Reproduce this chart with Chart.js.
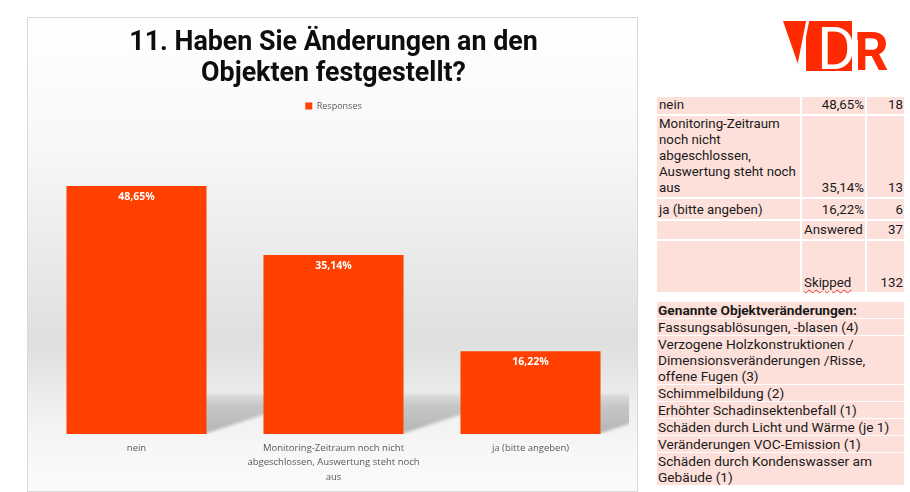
<!DOCTYPE html>
<html><head><meta charset="utf-8">
<script src="https://cdn.jsdelivr.net/npm/chart.js@4/dist/chart.umd.min.js"></script>
<style>
html,body{margin:0;padding:0}
body{width:910px;height:492px;background:#fff;position:relative;overflow:hidden;font-family:Roboto,"Liberation Sans",sans-serif;color:#1a1a1a}
#box{position:absolute;left:27px;top:17px;width:609px;height:473px;border:1px solid #d9d9d9;
background:linear-gradient(to bottom,#ffffff 0%,#f8f8f8 26%,#f1f1f1 38%,#e6e6e6 57%,#dfdfdf 68%,#e4e4e4 74%,#ededed 80%,#f6f6f6 90%,#fbfbfb 100%)}
#box canvas{position:absolute;left:0;top:0}
#logo{position:absolute;left:775px;top:10px}
.tbl{position:absolute;left:657px;border-collapse:separate;border-spacing:0;font-size:13.7px;line-height:16px;color:#1a1a1a}
.tbl td{background:#fde0da;padding:0 1px 0 2px;vertical-align:bottom;border-right:2px solid #fff;border-bottom:2px solid #fff;white-space:normal}
.tbl td:last-child{border-right:none}
#t1{top:97px;width:247px;font-size:13.3px}
#t1 td:first-child{padding-right:0}
#t2{top:302px;width:247px}
#t2 td{border-bottom:1px solid #fff;vertical-align:top;padding-left:1px}
.r{text-align:right}
.sp{text-decoration:underline wavy #e03030;text-decoration-thickness:1px;text-underline-offset:2px}
</style></head>
<body>
<div id="box"><canvas id="c" width="609" height="473"></canvas></div>
<svg id="logo" width="115" height="70" viewBox="775 10 115 70">
  <polygon points="783,21 809,21 799,67" fill="#ff2a00"/>
  <rect x="806" y="21" width="48" height="50" fill="#ff2a00"/>
  <text x="817" y="69" font-family="Roboto" font-weight="400" font-size="60" fill="#fff">D</text>
  <line x1="809" y1="14" x2="797" y2="75" stroke="#fff" stroke-width="3"/>
  <line x1="853" y1="16" x2="853" y2="74" stroke="#fff" stroke-width="2"/>
  <text x="854" y="70" font-family="Roboto" font-weight="700" font-size="54" fill="#ff2a00">R</text>
  <line x1="857" y1="40" x2="857" y2="74" stroke="#fff" stroke-width="2"/>
</svg>
<table id="t1" class="tbl"></table>
<table id="t2" class="tbl"></table>
<script>
const titleLines = ["11. Haben Sie Änderungen an den", "Objekten festgestellt?"];
const seriesName = "Responses";
const categories = ["nein", "Monitoring-Zeitraum noch nicht abgeschlossen, Auswertung steht noch aus", "ja (bitte angeben)"];
const tickLabels = [["nein"], ["Monitoring-Zeitraum noch nicht", "abgeschlossen, Auswertung steht noch", "aus"], ["ja (bitte angeben)"]];
const responsesPct = [48.65, 35.14, 16.22];
const responsesCount = [18, 13, 6];
const answered = 37;
const skipped = 132;
const changesHeader = "Genannte Objektveränderungen:";
const changesList = ["Fassungsablösungen, -blasen (4)", "Verzogene Holzkonstruktionen / Dimensionsveränderungen /Risse, offene Fugen (3)", "Schimmelbildung (2)", "Erhöhter Schadinsektenbefall (1)", "Schäden durch Licht und Wärme (je 1)", "Veränderungen VOC-Emission (1)", "Schäden durch Kondenswasser am Gebäude (1)"];

const fmt = v => v.toFixed(2).replace('.', ',') + '%';

// right tables
const t1 = document.getElementById('t1');
const rowH = [18, 82, 22];
let h = '';
categories.forEach((c, i) => {
  h += `<tr style="height:${rowH[i]}px"><td style="width:141px;padding-bottom:1px">${c}</td><td class="r" style="width:60px;padding-bottom:1px">${fmt(responsesPct[i])}</td><td class="r" style="padding-bottom:1px">${responsesCount[i]}</td></tr>`;
});
h += `<tr style="height:20px"><td></td><td style="padding-bottom:1px">Answered</td><td class="r" style="padding-bottom:1px">${answered}</td></tr>`;
h += `<tr style="height:51px"><td style="border-bottom:none"></td><td style="border-bottom:none;padding-bottom:1px"><span class="sp">Skipped</span></td><td class="r" style="border-bottom:none;padding-bottom:1px">${skipped}</td></tr>`;
t1.innerHTML = h;

const t2 = document.getElementById('t2');
let h2 = `<tr><td style="font-weight:700">${changesHeader}</td></tr>`;
changesList.forEach((c, i) => {
  h2 += `<tr><td${i === changesList.length - 1 ? ' style="border-bottom:none"' : ''}>${c}</td></tr>`;
});
t2.innerHTML = h2;

// chart
const barColor = '#ff4000';
const shadowPlugin = {
  id: 'floorShadow',
  beforeDatasetsDraw(chart) {
    const ctx = chart.ctx, a = chart.chartArea;
    const meta = chart.getDatasetMeta(0);
    ctx.save();
    ctx.beginPath();
    ctx.rect(a.left, a.top, a.right - a.left, a.bottom - a.top);
    ctx.clip();
    meta.data.forEach(bar => {
      const x1 = bar.x + bar.width / 2;
      const base = bar.base;
      const L = 62, H = 40;
      const g = ctx.createLinearGradient(0, base, 0, base - H);
      g.addColorStop(0, 'rgba(0,0,0,0.26)');
      g.addColorStop(0.7, 'rgba(0,0,0,0.17)');
      g.addColorStop(1, 'rgba(0,0,0,0.06)');
      ctx.fillStyle = g;
      ctx.filter = 'blur(1.5px)';
      ctx.beginPath();
      ctx.moveTo(x1 - 2, base);
      ctx.lineTo(x1 + L, base - 0.34 * L);
      ctx.lineTo(x1 + L, base - H);
      ctx.lineTo(x1 - 2, base - H);
      ctx.closePath();
      ctx.fill();
    });
    ctx.restore();
  }
};
const labelPlugin = {
  id: 'barLabels',
  afterDatasetsDraw(chart) {
    const ctx = chart.ctx;
    const meta = chart.getDatasetMeta(0);
    ctx.save();
    ctx.font = 'bold 10.5px "Open Sans"';
    ctx.fillStyle = '#ffffff';
    ctx.textAlign = 'center';
    ctx.textBaseline = 'middle';
    meta.data.forEach((bar, i) => {
      ctx.fillText(fmt(chart.data.datasets[0].data[i]), bar.x, bar.y + 11);
    });
    ctx.restore();
  }
};

new Chart(document.getElementById('c'), {
  type: 'bar',
  data: {
    labels: tickLabels,
    datasets: [{
      label: seriesName,
      data: responsesPct,
      backgroundColor: barColor,
      borderWidth: 0,
      barPercentage: 0.711,
      categoryPercentage: 1.0
    }]
  },
  options: {
    responsive: false,
    devicePixelRatio: 1,
    animation: false,
    layout: { padding: { left: 10, right: 8, top: 0, bottom: 0 } },
    plugins: {
      title: {
        display: true,
        text: titleLines,
        color: '#0d0d0d',
        font: { family: 'Roboto', weight: 'bold', size: 26.8, lineHeight: 1.157 },
        padding: { top: 9.5, bottom: 5.8 }
      },
      legend: {
        display: true,
        labels: {
          boxWidth: 7, boxHeight: 7,
          color: '#595959',
          font: { family: 'Open Sans', size: 9 },
          padding: 6.2
        }
      },
      tooltip: { enabled: false }
    },
    scales: {
      x: {
        grid: { display: false, drawTicks: false },
        border: { display: false },
        ticks: { color: '#595959', font: { family: 'Open Sans', size: 9.5, lineHeight: 1.55 }, padding: 6.5, maxRotation: 0, autoSkip: false },
        afterFit(s) { s.height = 57; }
      },
      y: { display: false, min: 0, max: 61.5 }
    }
  },
  plugins: [shadowPlugin, labelPlugin]
});
</script>
</body></html>
